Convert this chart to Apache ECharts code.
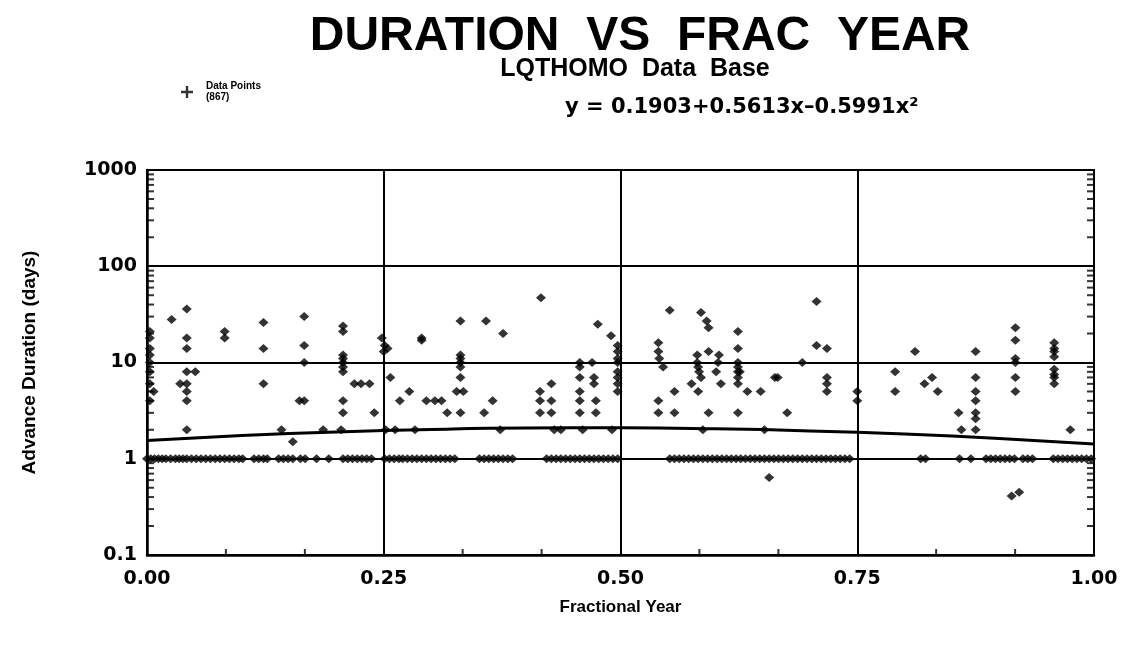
<!DOCTYPE html>
<html>
<head>
<meta charset="utf-8">
<script src="https://cdn.jsdelivr.net/npm/echarts@6/dist/echarts.min.js"></script>
<style>
  html, body { margin: 0; padding: 0; background: #ffffff; }
  #chart { width: 1131px; height: 652px; }
</style>
</head>
<body>
<div id="chart"></div>
<script>
// ---- text ----
const mainTitle = 'DURATION  VS  FRAC  YEAR';
const subTitle = 'LQTHOMO  Data  Base';
const legendLabel = 'Data Points';
const legendCount = '(867)';
const fitEquation = 'y = 0.1903+0.5613x\u20130.5991x\u00B2';
const xAxisName = 'Fractional Year';
const yAxisName = 'Advance Duration (days)';

// ---- observations: [fractional year, advance duration in days] ----
const durationPoints = [
  [0.003, 21], [0.003, 18], [0.003, 14], [0.003, 12], [0.003, 10], [0.003, 8], [0.003, 6], [0.003, 4],
  [0.007, 5],
  [0.026, 28],
  [0.035, 6],
  [0.042, 36], [0.042, 18], [0.042, 14], [0.042, 8], [0.042, 6], [0.042, 5], [0.042, 4], [0.042, 2],
  [0.051, 8],
  [0.082, 21], [0.082, 18],
  [0.123, 26], [0.123, 14], [0.123, 6],
  [0.142, 2], [0.154, 1.5],
  [0.161, 4], [0.166, 4], [0.166, 30], [0.166, 15], [0.166, 10],
  [0.186, 2],
  [0.205, 2],
  [0.207, 24], [0.207, 21], [0.207, 12], [0.207, 11], [0.207, 10], [0.207, 9], [0.207, 8], [0.207, 4], [0.207, 3],
  [0.219, 6], [0.226, 6], [0.235, 6],
  [0.240, 3],
  [0.248, 18], [0.250, 13], [0.251, 15], [0.254, 14], [0.252, 2], [0.262, 2],
  [0.257, 7],
  [0.267, 4],
  [0.277, 5], [0.283, 2],
  [0.290, 18], [0.290, 17],
  [0.295, 4], [0.304, 4], [0.311, 4],
  [0.317, 3],
  [0.331, 27], [0.331, 12], [0.331, 11], [0.331, 10], [0.331, 9], [0.331, 7], [0.331, 3],
  [0.327, 5], [0.334, 5],
  [0.356, 3], [0.358, 27],
  [0.365, 4],
  [0.373, 2],
  [0.376, 20],
  [0.415, 5], [0.415, 4], [0.415, 3],
  [0.416, 47],
  [0.427, 6], [0.427, 4], [0.427, 3],
  [0.430, 2], [0.437, 2],
  [0.457, 10], [0.457, 9], [0.457, 7], [0.457, 5], [0.457, 4], [0.457, 3], [0.460, 2],
  [0.470, 10], [0.472, 7], [0.472, 6], [0.474, 4], [0.474, 3],
  [0.476, 25],
  [0.490, 19], [0.491, 2],
  [0.497, 15], [0.497, 13], [0.497, 11], [0.497, 10], [0.497, 8], [0.497, 7], [0.497, 6], [0.497, 5],
  [0.540, 16], [0.540, 13], [0.541, 11], [0.545, 9], [0.540, 4], [0.540, 3],
  [0.552, 35],
  [0.557, 5], [0.557, 3],
  [0.575, 6],
  [0.581, 12], [0.581, 10], [0.582, 9], [0.583, 8], [0.585, 7], [0.582, 5],
  [0.585, 33],
  [0.587, 2],
  [0.591, 27], [0.593, 23], [0.593, 13], [0.593, 3],
  [0.601, 8], [0.603, 10], [0.604, 12], [0.606, 6],
  [0.624, 21], [0.624, 14], [0.624, 10], [0.624, 9], [0.624, 8], [0.626, 8], [0.624, 7], [0.624, 6], [0.624, 3],
  [0.634, 5], [0.648, 5],
  [0.652, 2],
  [0.657, 0.64],
  [0.663, 7], [0.666, 7],
  [0.676, 3],
  [0.692, 10],
  [0.707, 43], [0.707, 15],
  [0.718, 14], [0.718, 7], [0.718, 6], [0.718, 5],
  [0.750, 5], [0.750, 4],
  [0.790, 8], [0.790, 5],
  [0.811, 13],
  [0.821, 6], [0.829, 7], [0.835, 5],
  [0.857, 3], [0.860, 2],
  [0.875, 13],
  [0.875, 7], [0.875, 5], [0.875, 4], [0.875, 3], [0.875, 2.6], [0.875, 2],
  [0.913, 0.41], [0.921, 0.45],
  [0.917, 23], [0.917, 17], [0.917, 11], [0.917, 10], [0.917, 7], [0.917, 5],
  [0.958, 16], [0.958, 14], [0.958, 13], [0.958, 11.5], [0.958, 8.5], [0.958, 7.5], [0.958, 7], [0.958, 6],
  [0.975, 2]
];

// fractional years of the many one-day advances
const oneDayYears = [
  0.000, 0.004, 0.008, 0.012, 0.016, 0.020, 0.025, 0.030, 0.034, 0.038, 0.042, 0.047,
  0.052, 0.057, 0.062, 0.067, 0.072, 0.077, 0.082, 0.087, 0.092, 0.097, 0.101,
  0.113, 0.118, 0.123, 0.127,
  0.139, 0.144, 0.149, 0.154,
  0.162, 0.167,
  0.179, 0.192,
  0.207, 0.212, 0.217, 0.222, 0.227, 0.232, 0.237,
  0.251, 0.256, 0.261, 0.266, 0.270, 0.275, 0.280, 0.285, 0.290, 0.295, 0.300, 0.305,
  0.310, 0.315, 0.320, 0.325,
  0.351, 0.356, 0.361, 0.366, 0.371, 0.376, 0.381, 0.386,
  0.422, 0.427, 0.432, 0.437, 0.442, 0.447, 0.452, 0.457, 0.462, 0.467, 0.472, 0.477,
  0.482, 0.487, 0.492, 0.497,
  0.552, 0.557, 0.562, 0.567, 0.572, 0.577, 0.582, 0.587, 0.592, 0.597, 0.602, 0.607,
  0.612, 0.617, 0.622, 0.627, 0.632, 0.637, 0.642, 0.647, 0.652, 0.657, 0.662, 0.667,
  0.672, 0.677, 0.682, 0.687, 0.692, 0.697, 0.702, 0.707, 0.712, 0.717, 0.722, 0.727,
  0.732, 0.737, 0.742,
  0.817, 0.822,
  0.858, 0.870, 0.886, 0.891, 0.896, 0.901, 0.906, 0.911, 0.916, 0.925, 0.930, 0.935,
  0.957, 0.962, 0.967, 0.972, 0.977, 0.982, 0.987, 0.992, 0.997
];

// fitted quadratic (log10 of duration) sampled along the year
const fitYears = [0.0, 0.1, 0.2, 0.3, 0.4, 0.5, 0.6, 0.7, 0.8, 0.9, 1.0];
const fitDays  = [1.550, 1.740, 1.899, 2.017, 2.084, 2.095, 2.048, 1.948, 1.803, 1.623, 1.421];

// axis tick values
const xMajorTicks = [0.00, 0.25, 0.50, 0.75, 1.00];
const xMonthTicks = [0.0833, 0.1667, 0.3333, 0.4167, 0.5833, 0.6667, 0.8333, 0.9167];
const yMinorTicks = [
  0.2, 0.3, 0.4, 0.5, 0.6, 0.7, 0.8, 0.9,
  2, 3, 4, 5, 6, 7, 8, 9,
  20, 30, 40, 50, 60, 70, 80, 90,
  200, 300, 400, 500, 600, 700, 800, 900
];

// ---- chart ----
const ink = '#000000';
const tickFont = 'DejaVu Sans';

const allPoints = durationPoints.concat(oneDayYears.map(x => [x, 1]));

const chart = echarts.init(document.getElementById('chart'), null, { renderer: 'canvas' });

chart.setOption({
  backgroundColor: '#ffffff',
  animation: false,
  textStyle: { fontFamily: 'Liberation Sans', color: ink },
  title: [
    {
      text: mainTitle,
      left: 635, top: 8, textAlign: 'center',
      textStyle: { fontFamily: 'Liberation Sans', fontWeight: 'bold', fontSize: 48, color: ink }
    },
    {
      text: subTitle,
      left: 630, top: 52, textAlign: 'center',
      textStyle: { fontFamily: 'Liberation Sans', fontWeight: 'bold', fontSize: 25, color: ink }
    }
  ],
  legend: {
    left: 176, top: 76,
    itemWidth: 12, itemHeight: 12, itemGap: 4,
    data: [{ name: legendLabel, icon: 'path://M4,0 H6 V4 H10 V6 H6 V10 H4 V6 H0 V4 H4 Z' }],
    formatter: name => name + '\n' + legendCount,
    textStyle: { fontFamily: 'Liberation Sans', fontWeight: 'bold', fontSize: 10, lineHeight: 11, color: ink, padding: [0, 0, 0, 8] },
    selectedMode: false
  },
  graphic: [
    {
      type: 'text', left: 565, top: 97,
      style: { text: fitEquation, font: 'bold 21px "DejaVu Sans"', fill: ink }
    }
  ],
  grid: {
    left: 147, right: 37, top: 170, bottom: 97,
    show: true, borderColor: ink, borderWidth: 2, backgroundColor: 'transparent'
  },
  xAxis: {
    type: 'value', min: 0, max: 1, interval: 0.25,
    name: xAxisName, nameLocation: 'middle', nameGap: 44,
    nameTextStyle: { fontFamily: 'Liberation Sans', fontWeight: 'bold', fontSize: 17, color: ink },
    axisLine: { show: true, lineStyle: { color: ink, width: 2.5 } },
    axisTick: { show: false },
    axisLabel: {
      margin: 15, color: ink, fontFamily: tickFont, fontWeight: 'bold', fontSize: 19,
      formatter: v => (xMajorTicks.indexOf(v) >= 0 ? v.toFixed(2) : '')
    },
    splitLine: { show: true, lineStyle: { color: ink, width: 2 } }
  },
  yAxis: {
    type: 'log', logBase: 10, min: 0.1, max: 1000,
    name: yAxisName, nameLocation: 'middle', nameGap: 108, nameRotate: 90,
    nameTextStyle: { fontFamily: 'Liberation Sans', fontWeight: 'bold', fontSize: 19, color: ink },
    axisLine: { show: true, lineStyle: { color: ink, width: 2.5 } },
    axisTick: { show: false },
    axisLabel: {
      margin: 10, color: ink, fontFamily: tickFont, fontWeight: 'bold', fontSize: 19,
      formatter: v => String(+Number(v).toPrecision(3))
    },
    splitLine: { show: true, lineStyle: { color: ink, width: 2 } }
  },
  series: [
    {
      name: legendLabel,
      type: 'scatter',
      data: allPoints,
      symbol: 'diamond',
      symbolSize: [10, 9],
      itemStyle: { color: ink },
      clip: false,
      z: 3
    },
    {
      name: 'fit',
      type: 'line',
      data: fitYears.map((x, i) => [x, fitDays[i]]),
      smooth: true,
      showSymbol: false,
      lineStyle: { color: ink, width: 3 },
      z: 4
    },
    {
      // minor ticks along the left axis
      type: 'scatter', silent: true, clip: false,
      data: yMinorTicks.map(v => [0, v]),
      symbol: 'rect', symbolSize: [7, 2], symbolOffset: [3.5, 0],
      itemStyle: { color: ink }, z: 5
    },
    {
      // minor ticks along the right axis
      type: 'scatter', silent: true, clip: false,
      data: yMinorTicks.map(v => [1, v]),
      symbol: 'rect', symbolSize: [7, 2], symbolOffset: [-3.5, 0],
      itemStyle: { color: ink }, z: 5
    },
    {
      // month ticks along the bottom axis
      type: 'scatter', silent: true, clip: false,
      data: xMonthTicks.map(x => [x, 0.1]),
      symbol: 'rect', symbolSize: [2, 6], symbolOffset: [0, -3],
      itemStyle: { color: ink }, z: 5
    }
  ]
});
</script>
</body>
</html>
